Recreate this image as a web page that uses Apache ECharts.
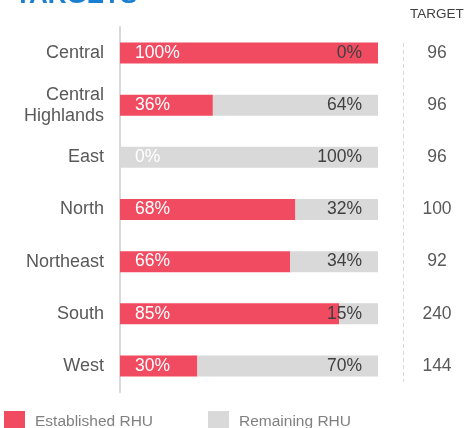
<!DOCTYPE html>
<html><head><meta charset="utf-8">
<script src="https://cdn.jsdelivr.net/npm/echarts@6/dist/echarts.min.js"></script>
<style>html,body{margin:0;padding:0;background:#fff}#c{width:470px;height:428px}</style>
</head><body><div id="c"></div>
<script>
const categories = ['Central', 'Central\nHighlands', 'East', 'North', 'Northeast', 'South', 'West'];
const established = [100, 36, 0, 68, 66, 85, 30];
const remaining = [0, 64, 100, 32, 34, 15, 70];
const targets = [96, 96, 96, 100, 92, 240, 144];

const FONT = '"Liberation Sans", Arial, sans-serif';
const chart = echarts.init(document.getElementById('c'));
chart.setOption({
  animation: false,
  textStyle: { fontFamily: FONT },
  title: {
    text: 'TARGETS', left: 10, top: -22,
    textStyle: { color: '#1a7fd0', fontSize: 26, fontWeight: 'bold', fontFamily: FONT }
  },
  graphic: [{
    type: 'text', left: 410, top: 7,
    style: { text: 'TARGET', fill: '#404040', font: '13.5px ' + FONT }
  }, {
    type: 'line', silent: true,
    shape: { x1: 403.5, y1: 43, x2: 403.5, y2: 382 },
    style: { stroke: '#d9d9d9', lineWidth: 1, lineDash: [4, 3] }
  }],
  legend: {
    left: 4, top: 411, padding: 0, itemWidth: 21, itemHeight: 21, itemGap: 55,
    icon: 'rect',
    textStyle: { color: '#808080', fontSize: 15.5, fontFamily: FONT, padding: [0, 0, 0, 5] },
    data: ['Established RHU', 'Remaining RHU']
  },
  grid: { left: 120, right: 92, top: 27, bottom: 36, containLabel: false },
  xAxis: { type: 'value', min: 0, max: 100, show: false },
  yAxis: [{
    type: 'category', data: categories, inverse: true,
    axisLine: { show: true, lineStyle: { color: '#d9d9d9', width: 2 } },
    axisTick: { show: false },
    axisLabel: { color: '#595959', fontSize: 18, margin: 16, lineHeight: 21, fontFamily: FONT }
  }, {
    type: 'category', data: targets.map(String), inverse: true, position: 'right', offset: 25,
    axisLine: { show: false },
    axisTick: { show: false },
    axisLabel: { color: '#595959', fontSize: 17.5, margin: 34, align: 'center', fontFamily: FONT }
  }],
  series: [{
    name: 'Established RHU', type: 'bar', stack: 't', barWidth: 21, data: established,
    itemStyle: { color: '#f04b61' },
    label: { show: true, position: 'insideLeft', distance: 15, color: '#ffffff', fontSize: 17.5, fontFamily: FONT, formatter: '{c}%' }
  }, {
    name: 'Remaining RHU', type: 'bar', stack: 't', barWidth: 21, data: remaining,
    itemStyle: { color: '#d9d9d9' },
    label: { show: true, position: 'insideRight', distance: 16, color: '#404040', fontSize: 17.5, fontFamily: FONT, formatter: '{c}%' }
  }]
});
</script></body></html>
